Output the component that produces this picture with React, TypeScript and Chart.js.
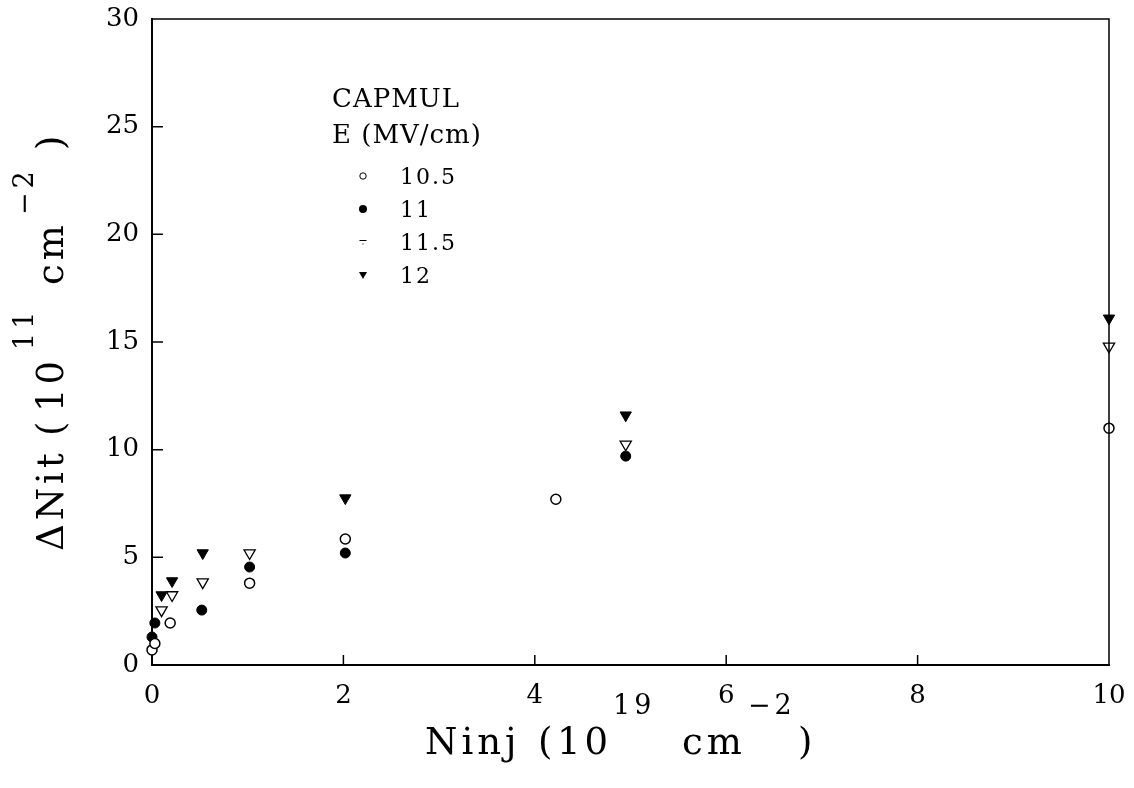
import React, { useEffect, useRef } from "react";
import { Chart, registerables } from "chart.js";
Chart.register(...registerables);

// ---- data ----
const X_TICKS = [0, 2, 4, 6, 8, 10];
const Y_TICKS = [0, 5, 10, 15, 20, 25, 30];
const LEGEND_TITLE = ["CAPMUL", "E (MV/cm)"];
const FIELD_LABELS = ["10.5", "11", "11.5", "12"];

const ninj_105 = [0.0, 0.03, 0.19, 1.02, 2.02, 4.22, 10];
const dnit_105 = [0.7, 1.0, 1.95, 3.8, 5.85, 7.7, 11.0];

const ninj_11 = [0.0, 0.03, 0.52, 1.02, 2.02, 4.95];
const dnit_11 = [1.3, 1.95, 2.55, 4.55, 5.2, 9.7];

const ninj_115 = [0.1, 0.21, 0.53, 1.02, 4.95, 10];
const dnit_115 = [2.55, 3.25, 3.85, 5.2, 10.25, 14.8];

const ninj_12 = [0.1, 0.21, 0.53, 2.02, 4.95, 10];
const dnit_12 = [3.25, 3.9, 5.2, 7.75, 11.6, 16.1];

const FONT = "'DejaVu Serif'";

function pts(xs: number[], ys: number[]) {
  return xs.map((x, i) => ({ x, y: ys[i] }));
}

type Run = [string, number, boolean?];

function drawRuns(ctx: CanvasRenderingContext2D, runs: Run[], base: number, supOffset: number) {
  for (const [t, at, sup] of runs) {
    ctx.font = sup ? `27px ${FONT}` : `37px ${FONT}`;
    ctx.fillText(t, at, sup ? base + supOffset : base);
  }
}

const decor = {
  id: "decor",
  afterDraw(chart: any) {
    const { ctx, chartArea: ca, scales } = chart;
    const xs = scales.x;
    const ys = scales.y;
    ctx.save();
    ctx.strokeStyle = "#000";
    ctx.fillStyle = "#000";
    ctx.lineWidth = 1.5;
    // frame top & right
    ctx.beginPath();
    ctx.moveTo(ca.left, ca.top);
    ctx.lineTo(ca.right, ca.top);
    ctx.lineTo(ca.right, ca.bottom);
    ctx.stroke();
    // inward ticks
    ctx.beginPath();
    Y_TICKS.forEach((v) => {
      if (v === Y_TICKS[0] || v === Y_TICKS[Y_TICKS.length - 1]) return;
      const y = ys.getPixelForValue(v);
      ctx.moveTo(ca.left, y);
      ctx.lineTo(ca.left + 11, y);
    });
    X_TICKS.forEach((v) => {
      if (v === X_TICKS[0] || v === X_TICKS[X_TICKS.length - 1]) return;
      const x = xs.getPixelForValue(v);
      ctx.moveTo(x, ca.bottom);
      ctx.lineTo(x, ca.bottom - 10);
    });
    ctx.stroke();

    // axis titles
    ctx.textAlign = "left";
    ctx.textBaseline = "alphabetic";
    (ctx as any).letterSpacing = "4px";
    drawRuns(
      ctx,
      [
        ["Ninj", 425],
        ["(", 538],
        ["10", 557],
        ["19", 613, true],
        ["cm", 682],
        ["\u22122", 748, true],
        [")", 798],
      ],
      754,
      -40
    );
    ctx.save();
    ctx.translate(63, 0);
    ctx.rotate(-Math.PI / 2);
    drawRuns(
      ctx,
      [
        ["\u0394Nit", -551],
        ["(", -436],
        ["10", -412],
        ["11", -350, true],
        ["cm", -285],
        ["\u22122", -215, true],
        [")", -150],
      ],
      0,
      -30
    );
    ctx.restore();

    // legend
    (ctx as any).letterSpacing = "1px";
    ctx.font = `26px ${FONT}`;
    ctx.fillText(LEGEND_TITLE[0], 332, 107);
    ctx.fillText(LEGEND_TITLE[1], 332, 143);
    (ctx as any).letterSpacing = "2px";
    ctx.font = `22px ${FONT}`;
    const rowY = [176, 209, 242, 275];
    FIELD_LABELS.forEach((lab, i) => {
      ctx.fillText(lab, 400, rowY[i] + 8);
    });
    const sx = 363;
    ctx.lineWidth = 1;
    // open circle
    ctx.beginPath();
    ctx.arc(sx, rowY[0], 3.2, 0, Math.PI * 2);
    ctx.stroke();
    // filled circle
    ctx.beginPath();
    ctx.arc(sx, rowY[1], 4, 0, Math.PI * 2);
    ctx.fill();
    // open triangle (faint, shows as a dash)
    ctx.beginPath();
    ctx.moveTo(sx - 3.5, rowY[2] - 1.5);
    ctx.lineTo(sx + 3.5, rowY[2] - 1.5);
    ctx.stroke();
    ctx.fillRect(sx - 0.5, rowY[2] + 1.5, 1, 1);
    // filled triangle
    ctx.beginPath();
    ctx.moveTo(sx - 4, rowY[3] - 3);
    ctx.lineTo(sx + 4, rowY[3] - 3);
    ctx.lineTo(sx, rowY[3] + 4);
    ctx.closePath();
    ctx.fill();
    ctx.restore();
  },
};

export default function App() {
  const ref = useRef<HTMLCanvasElement | null>(null);
  useEffect(() => {
    document.body.style.margin = "0";
    const canvas = ref.current!;
    const common = { clip: false as any, showLine: false };
    const chart = new Chart(canvas, {
      type: "scatter",
      data: {
        datasets: [
          {
            ...common,
            label: FIELD_LABELS[0],
            data: pts(ninj_105, dnit_105),
            pointStyle: "circle",
            pointRadius: 5,
            backgroundColor: "#fff",
            borderColor: "#000",
            borderWidth: 1.5,
          },
          {
            ...common,
            label: FIELD_LABELS[1],
            data: pts(ninj_11, dnit_11),
            pointStyle: "circle",
            pointRadius: 5,
            backgroundColor: "#000",
            borderColor: "#000",
            borderWidth: 1,
          },
          {
            ...common,
            label: FIELD_LABELS[2],
            data: pts(ninj_115, dnit_115),
            pointStyle: "triangle",
            rotation: 180,
            pointRadius: 6.5,
            backgroundColor: "#fff",
            borderColor: "#000",
            borderWidth: 1.3,
          } as any,
          {
            ...common,
            label: FIELD_LABELS[3],
            data: pts(ninj_12, dnit_12),
            pointStyle: "triangle",
            rotation: 180,
            pointRadius: 6.5,
            backgroundColor: "#000",
            borderColor: "#000",
            borderWidth: 1,
          } as any,
        ],
      },
      options: {
        animation: false,
        responsive: false,
        layout: { padding: { left: 0, top: 19, right: 25, bottom: 0 } },
        plugins: { legend: { display: false }, tooltip: { enabled: false } },
        scales: {
          x: {
            type: "linear",
            min: 0,
            max: 10,
            afterFit: (s: any) => {
              s.height = 123;
              s.paddingLeft = 0;
              s.paddingRight = 0;
            },
            afterBuildTicks: (s: any) => {
              s.ticks = X_TICKS.map((v) => ({ value: v }));
            },
            grid: { display: false, drawTicks: false },
            border: { display: true, color: "#000", width: 2 },
            ticks: {
              color: "#000",
              font: { family: FONT, size: 26 },
              padding: 16,
              maxRotation: 0,
            },
          },
          y: {
            type: "linear",
            min: 0,
            max: 30,
            afterFit: (s: any) => {
              s.width = 152;
              s.paddingTop = 0;
              s.paddingBottom = 0;
            },
            afterBuildTicks: (s: any) => {
              s.ticks = Y_TICKS.map((v) => ({ value: v }));
            },
            grid: { display: false, drawTicks: false },
            border: { display: true, color: "#000", width: 2 },
            ticks: {
              color: "#000",
              font: { family: FONT, size: 26 },
              padding: 13,
            },
          },
        },
      },
      plugins: [decor],
    });
    return () => chart.destroy();
  }, []);
  return <canvas ref={ref} width={1134} height={788} style={{ display: "block" }} />;
}
